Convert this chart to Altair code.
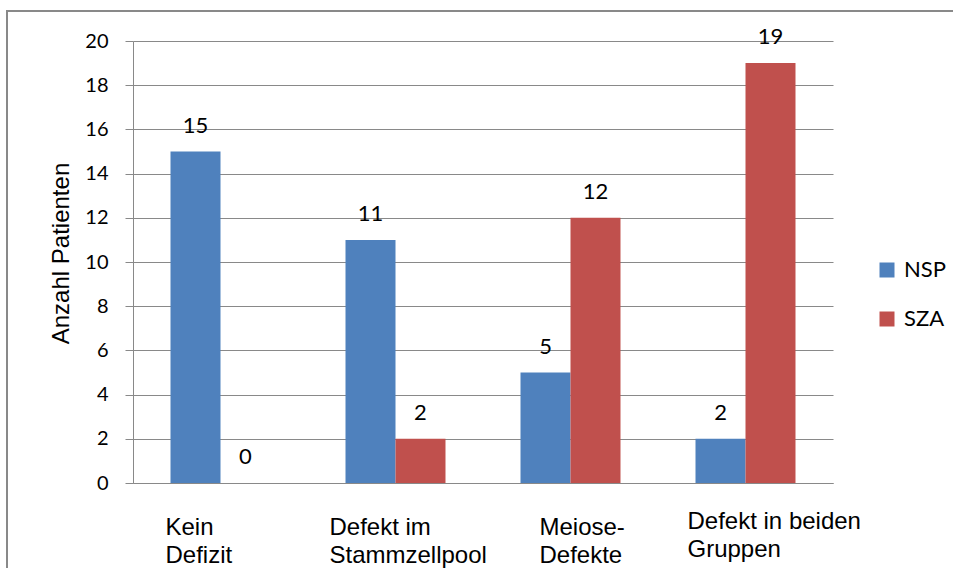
import altair as alt
import pandas as pd

# ---- data -------------------------------------------------------------
categories = ["Kein Defizit", "Defekt im Stammzellpool", "Meiose-Defekte", "Defekt in beiden Gruppen"]
label_lines = [["Kein", "Defizit"], ["Defekt im", "Stammzellpool"], ["Meiose-", "Defekte"], ["Defekt in beiden", "Gruppen"]]
series = ["NSP", "SZA"]
nsp_values = [15, 11, 5, 2]
sza_values = [0, 2, 12, 19]
y_ticks = [0, 2, 4, 6, 8, 10, 12, 14, 16, 18, 20]
colors = ["#4F81BD", "#C0504D"]

rows = []
for i, c in enumerate(categories):
    rows.append({"Kategorie": c, "Gruppe": "NSP", "Anzahl": nsp_values[i]})
    rows.append({"Kategorie": c, "Gruppe": "SZA", "Anzahl": sza_values[i]})
df = pd.DataFrame(rows)

# multi-line axis labels
expr = "datum.value"
for c, lines in reversed(list(zip(categories, label_lines))):
    arr = "[" + ", ".join("'" + l + "'" for l in lines) + "]"
    expr = f"datum.value == '{c}' ? {arr} : ({expr})"

# per-label shifts mimicking the original's wrapped label boxes
label_shift = [-55, -66, -31, -58]
label_offset = {
    "condition": [
        {"test": f"datum.value == '{c}'", "value": s}
        for c, s in zip(categories, label_shift)
    ],
    "value": -50,
}
label_pad = {
    "condition": {"test": f"datum.value == '{categories[3]}'", "value": 26},
    "value": 32,
}

GRAY = "#898989"

x_enc = alt.X(
    "Kategorie:N",
    sort=categories,
    scale=alt.Scale(paddingInner=0.4286, paddingOuter=0.2143),
    axis=alt.Axis(
        title=None,
        labelAngle=0,
        labelAlign="left",
        labelOffset=label_offset,
        labelBaseline="top",
        labelPadding=label_pad,
        labelFont="Liberation Sans",
        labelFontSize=24,
        labelLineHeight=28,
        labelColor="black",
        labelExpr=expr,
        labelOverlap=False,
        ticks=False,
        domain=True,
        domainColor=GRAY,
        grid=False,
    ),
)
xoff_enc = alt.XOffset("Gruppe:N", sort=series, scale=alt.Scale(paddingInner=0, paddingOuter=0))
y_enc = alt.Y(
    "Anzahl:Q",
    scale=alt.Scale(domain=[0, 20], nice=False),
    axis=alt.Axis(
        values=y_ticks,
        title="Anzahl Patienten",
        titleFont="Liberation Sans",
        titleFontSize=24,
        titleFontWeight="normal",
        titleColor="black",
        titleX=-65,
        titleY=212,
        titleAngle=-90,
        titleAlign="center",
        titleBaseline="alphabetic",
        labelFont="Lato",
        labelFontSize=20,
        labelColor="black",
        labelPadding=17,
        tickSize=8,
        tickColor=GRAY,
        domainColor=GRAY,
        gridColor=GRAY,
        gridWidth=1,
    ),
)

bars = alt.Chart(df).mark_bar().encode(
    x=x_enc,
    xOffset=xoff_enc,
    y=y_enc,
    color=alt.Color(
        "Gruppe:N",
        scale=alt.Scale(domain=series, range=colors),
        legend=alt.Legend(
            title=None,
            orient="none",
            legendX=743,
            legendY=218,
            symbolType="square",
            symbolSize=225,
            symbolStrokeWidth=0,
            labelFont="Lato",
            labelFontSize=22,
            labelColor="black",
            labelOffset=6,
            rowPadding=27,
            padding=0,
        ),
    ),
)

labels = alt.Chart(df).mark_text(
    baseline="alphabetic", dy=-19, fontSize=22, font="Lato", color="black"
).encode(
    x=alt.X("Kategorie:N", sort=categories),
    xOffset=alt.XOffset("Gruppe:N", sort=series),
    y="Anzahl:Q",
    text="Anzahl:Q",
)

frame = alt.Chart(alt.Data(values=[{}])).mark_rect(
    fillOpacity=0, stroke=GRAY, strokeWidth=2
).encode(
    x=alt.value(-126), x2=alt.value(840), y=alt.value(-30), y2=alt.value(545)
)

chart = alt.layer(frame, bars, labels).properties(
    width=700,
    height=442,
    padding={"left": 133, "top": 41, "right": 120, "bottom": 85},
    autosize=alt.AutoSizeParams(type="none"),
    background="white",
).configure_view(stroke=None)

chart.save("out.html", embed_options={"renderer": "svg", "actions": False})
